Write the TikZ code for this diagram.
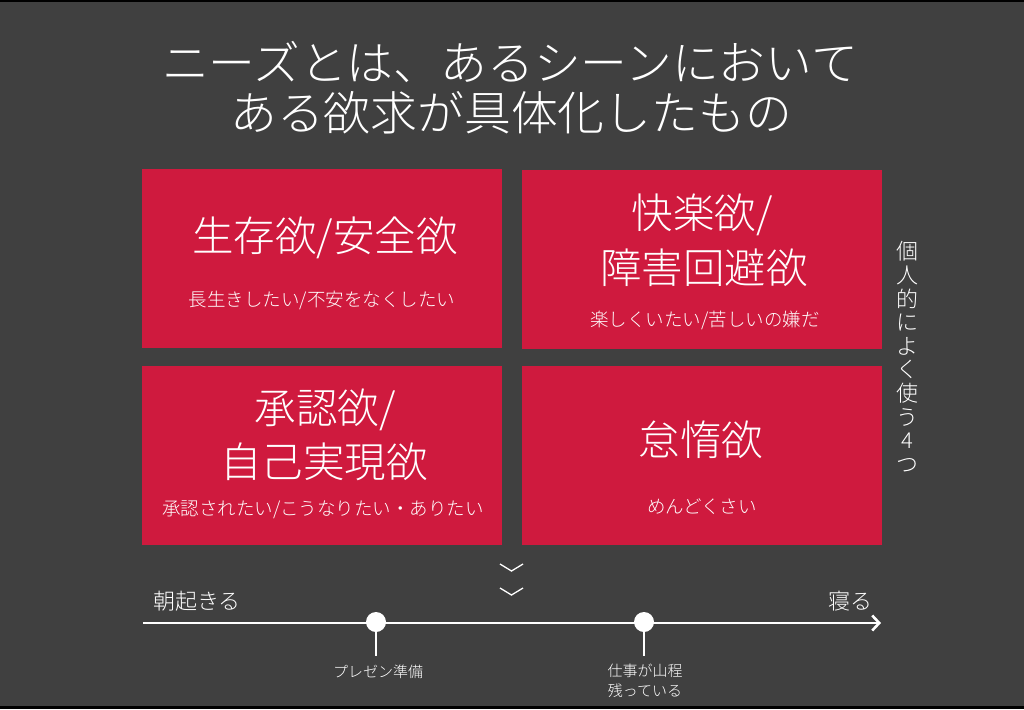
\documentclass[tikz,border=0pt]{standalone}
\usepackage{fontspec}
\IfFontExistsTF{Noto Sans CJK JP Light}
  {\setmainfont{Noto Sans CJK JP Light}}
  {\setmainfont{Noto Sans CJK JP}}
\usetikzlibrary{arrows.meta}
\definecolor{bg}{HTML}{404040}
\definecolor{rd}{HTML}{CF1A3E}
\tikzset{
  box/.style={fill=rd, minimum width=360pt, minimum height=179pt, inner sep=0pt},
  ttl/.style={text=white, inner sep=0pt, align=center, font=\fontsize{46.8}{51}\selectfont},
  big/.style={text=white, inner sep=0pt, align=center, font=\fontsize{41.5}{52}\selectfont},
  small/.style={text=white, inner sep=0pt, align=center, font=\fontsize{18.5}{22}\selectfont},
  tl/.style={text=white, inner sep=0pt, font=\fontsize{22}{26}\selectfont},
  lbl/.style={text=white, inner sep=0pt, align=center, font=\fontsize{15}{20}\selectfont},
  dot/.style={circle, fill=white, minimum size=20pt, inner sep=0pt},
  chev/.style={white, line width=1.3pt},
}
\begin{document}
\begin{tikzpicture}[x=1pt,y=-1pt]
\fill[bg] (0,0) rectangle (1024,709);
\useasboundingbox (0,0) rectangle (1024,709);
\fill[black] (0,0) rectangle (1024,2);
\fill[black] (0,706) rectangle (1024,709);

\node[ttl] (t1) at (510,62) {ニーズとは、あるシーンにおいて};
\node[ttl] (t2) at (511,113) {ある欲求が具体化したもの};

\node[box] (b1) at (322,258.5) {};
\node[box] (b2) at (701.5,259.5) {};
\node[box] (b3) at (322,455) {};
\node[box] (b4) at (701.5,455) {};

\node[big] (h1) at (325,238) {生存欲/安全欲};
\node[small] (s1) at (322,300) {長生きしたい/不安をなくしたい};

\node[big] (h2a) at (702,215) {快楽欲/};
\node[big] (h2b) at (704,268) {障害回避欲};
\node[small] (s2) at (705,320) {楽しくいたい/苦しいの嫌だ};

\node[big] (h3a) at (325,410) {承認欲/};
\node[big] (h3b) at (324,462) {自己実現欲};
\node[small] (s3) at (323,510) {承認されたい/こうなりたい・ありたい};

\node[big] (h4) at (701,440) {怠惰欲};
\node[small] (s4) at (702,507) {めんどくさい};

\node[text=white, inner sep=0pt, align=center, font=\fontsize{22}{23.6}\selectfont] (v) at (907,357)
  {個\\人\\的\\に\\よ\\く\\使\\う\\4\\つ};

\coordinate (c1a) at (500,564); \coordinate (c1b) at (511.5,571); \coordinate (c1c) at (523,564);
\coordinate (c2a) at (500,588); \coordinate (c2b) at (511.5,595); \coordinate (c2c) at (523,588);
\draw[chev] (c1a) -- (c1b) -- (c1c);
\draw[chev] (c2a) -- (c2b) -- (c2c);

\node[tl] (m) at (197,601) {朝起きる};
\node[tl] (n) at (850,601) {寝る};

\coordinate (ls) at (143,623);
\coordinate (le) at (881,623);
\draw[white, line width=2.6pt, -{Straight Barb[length=7pt,width=15pt,line width=2.6pt]}] (ls) -- (le);

\node[dot] (d1) at (376,622) {};
\node[dot] (d2) at (644,622) {};
\coordinate (k1) at (376,656);
\coordinate (k2) at (644,656);
\draw[white, line width=2pt] (d1.south) -- (k1);
\draw[white, line width=2pt] (d2.south) -- (k2);

\node[lbl] (l1) at (378,672) {プレゼン準備};
\node[lbl] (l2) at (645,681) {仕事が山程\\残っている};
\end{tikzpicture}
\end{document}
